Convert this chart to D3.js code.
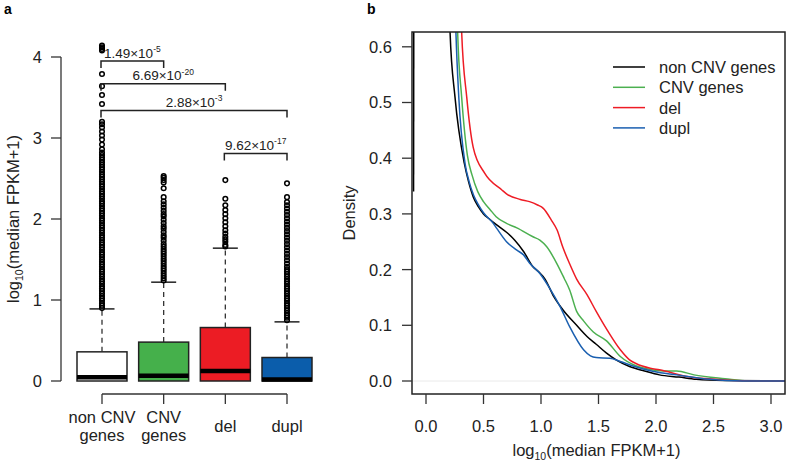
<!DOCTYPE html>
<html>
<head>
<meta charset="utf-8">
<script src="https://cdn.jsdelivr.net/npm/d3@7/dist/d3.min.js"></script>
<style>
  html, body { margin: 0; padding: 0; background: #fff; }
  svg { display: block; font-family: "Liberation Sans", Arial, sans-serif; }
</style>
</head>
<body>
<svg id="chart" width="787" height="462"></svg>
<script>
// ---------------- DATA ----------------
// Panel a: boxplots
const boxCategories = ["non CNV genes", "CNV genes", "del", "dupl"];
const boxLabelLines = [["non CNV", "genes"], ["CNV", "genes"], ["del"], ["dupl"]];
const boxQ1 = [0, 0, 0, 0];
const boxMedian = [0.045, 0.065, 0.125, 0.02];
const boxQ3 = [0.36, 0.48, 0.66, 0.29];
const whiskerHigh = [0.89, 1.22, 1.64, 0.73];
const boxFills = ["#ffffff", "#45b04b", "#ec1c24", "#0b5dab"];
const yTicksA = [0, 1, 2, 3, 4];

const outliersNonCnv = [0.90,0.93,0.96,0.99,1.02,1.05,1.08,1.11,1.14,1.17,1.20,1.23,1.26,1.29,1.32,1.35,1.38,1.41,1.44,1.47,1.50,1.53,1.56,1.59,1.62,1.65,1.68,1.71,1.74,1.77,1.80,1.83,1.86,1.89,1.92,1.95,1.98,2.01,2.04,2.07,2.10,2.13,2.16,2.19,2.22,2.25,2.28,2.31,2.34,2.37,2.40,2.43,2.46,2.49,2.52,2.55,2.58,2.61,2.64,2.67,2.70,2.73,2.76,2.79,2.82,2.86,2.92,2.98,3.03,3.08,3.13,3.17,3.20,3.42,3.53,3.64,3.79,4.08,4.10,4.12,4.14];
const outliersCnv = [1.24,1.27,1.30,1.33,1.36,1.39,1.42,1.45,1.48,1.51,1.54,1.57,1.60,1.63,1.66,1.69,1.73,1.77,1.80,1.84,1.88,1.91,1.95,1.99,2.03,2.06,2.10,2.14,2.18,2.22,2.27,2.38,2.45,2.48,2.51,2.53];
const outliersDel = [1.66,1.68,1.72,1.75,1.78,1.82,1.86,1.91,1.96,2.01,2.06,2.11,2.17,2.25,2.48];
const outliersDupl = [0.75,0.78,0.81,0.84,0.87,0.90,0.93,0.96,0.99,1.02,1.05,1.08,1.11,1.14,1.17,1.20,1.23,1.26,1.29,1.32,1.35,1.38,1.41,1.45,1.49,1.53,1.57,1.61,1.65,1.69,1.73,1.77,1.81,1.85,1.89,1.93,1.97,2.01,2.05,2.09,2.13,2.17,2.21,2.27,2.44];
const outliers = [outliersNonCnv, outliersCnv, outliersDel, outliersDupl];

// significance brackets
const bracketFrom = [0, 0, 0, 2];
const bracketTo = [1, 2, 3, 3];
const bracketLevel = [3.95, 3.67, 3.34, 2.81];
const pMantissa = ["1.49", "6.69", "2.88", "9.62"];
const pExponent = ["-5", "-20", "-3", "-17"];

// Panel b: density curves
const densSeries = ["non CNV genes", "CNV genes", "del", "dupl"];
const densColors = ["#000000", "#4cb050", "#ee1c25", "#1a5fb0"];
const xTicksB = [0.0, 0.5, 1.0, 1.5, 2.0, 2.5, 3.0];
const yTicksB = [0.0, 0.1, 0.2, 0.3, 0.4, 0.5, 0.6];

const nonCnvEdgeX = [-0.108, -0.106];
const nonCnvEdgeY = [0.34, 0.70];
const nonCnvX = [0.20, 0.209, 0.252, 0.333, 0.37, 0.41, 0.455, 0.50, 0.556, 0.63, 0.70, 0.77, 0.85, 0.93, 0.98, 1.035, 1.11, 1.19, 1.31, 1.40, 1.48, 1.57, 1.66, 1.77, 1.90, 2.03, 2.20, 2.35, 2.60, 3.20];
const nonCnvY = [0.70, 0.627, 0.51, 0.391, 0.358, 0.331, 0.313, 0.300, 0.29, 0.278, 0.267, 0.253, 0.232, 0.205, 0.196, 0.183, 0.152, 0.128, 0.10, 0.08, 0.066, 0.05, 0.037, 0.026, 0.018, 0.011, 0.007, 0.003, 0.001, 0.0];
const cnvX = [0.27, 0.275, 0.31, 0.36, 0.40, 0.45, 0.50, 0.556, 0.61, 0.70, 0.79, 0.93, 0.99, 1.05, 1.14, 1.20, 1.25, 1.31, 1.37, 1.455, 1.57, 1.69, 1.83, 1.92, 2.06, 2.18, 2.33, 2.60, 2.80, 3.20];
const cnvY = [0.70, 0.627, 0.51, 0.405, 0.37, 0.34, 0.322, 0.308, 0.295, 0.283, 0.275, 0.259, 0.253, 0.241, 0.21, 0.185, 0.163, 0.125, 0.108, 0.088, 0.072, 0.044, 0.027, 0.022, 0.018, 0.018, 0.011, 0.004, 0.0, 0.0];
const delX = [0.30, 0.31, 0.354, 0.41, 0.51, 0.66, 0.70, 0.82, 0.90, 0.97, 1.02, 1.09, 1.14, 1.19, 1.25, 1.31, 1.40, 1.48, 1.58, 1.69, 1.77, 1.83, 1.95, 2.03, 2.27, 2.60, 2.88, 3.20];
const delY = [0.70, 0.627, 0.51, 0.42, 0.373, 0.343, 0.336, 0.326, 0.322, 0.316, 0.31, 0.289, 0.271, 0.24, 0.21, 0.183, 0.155, 0.125, 0.09, 0.056, 0.038, 0.031, 0.023, 0.02, 0.008, 0.002, 0.0, 0.0];
const duplX = [0.25, 0.26, 0.285, 0.34, 0.375, 0.415, 0.46, 0.50, 0.585, 0.615, 0.70, 0.79, 0.85, 0.90, 0.99, 1.08, 1.165, 1.25, 1.37, 1.43, 1.48, 1.60, 1.69, 1.80, 1.98, 2.18, 2.47, 2.75, 3.20];
const duplY = [0.70, 0.627, 0.51, 0.39, 0.358, 0.333, 0.315, 0.302, 0.283, 0.274, 0.25, 0.235, 0.226, 0.212, 0.193, 0.165, 0.134, 0.097, 0.056, 0.045, 0.042, 0.041, 0.035, 0.027, 0.017, 0.011, 0.003, 0.0, 0.0];

// ---------------- DRAW ----------------
const svg = d3.select("#chart");
svg.append("rect").attr("width", 787).attr("height", 462).attr("fill", "#fff");
const FONT = 16.5;

// ===== Panel a =====
const xA = d3.scaleLinear().domain([0, 3]).range([102, 287]);
const yA = d3.scaleLinear().domain([0, 4]).range([381, 57]);
const gA = svg.append("g");

svg.append("text").attr("x", 4).attr("y", 14).attr("font-size", 14).attr("font-weight", "bold").text("a");

// y axis
gA.append("line").attr("x1", 61).attr("x2", 61).attr("y1", yA(0)).attr("y2", yA(4))
  .attr("stroke", "#333").attr("stroke-width", 1.3);
yTicksA.forEach(t => {
  gA.append("line").attr("x1", 51).attr("x2", 61).attr("y1", yA(t)).attr("y2", yA(t))
    .attr("stroke", "#333").attr("stroke-width", 1.3);
  gA.append("text").attr("x", 42).attr("y", yA(t)).attr("dy", "0.36em")
    .attr("text-anchor", "end").attr("font-size", FONT).attr("fill", "#222").text(t);
});
const ylabA = gA.append("text").attr("transform", "translate(19,219) rotate(-90)")
  .attr("text-anchor", "middle").attr("font-size", FONT).attr("fill", "#222");
ylabA.append("tspan").text("log");
ylabA.append("tspan").attr("font-size", 10.5).attr("dy", 4).text("10");
ylabA.append("tspan").attr("dy", -4).text("(median FPKM+1)");

// x axis
gA.append("line").attr("x1", xA(0)).attr("x2", xA(3)).attr("y1", 394).attr("y2", 394)
  .attr("stroke", "#333").attr("stroke-width", 1.3);
boxCategories.forEach((c, i) => {
  gA.append("line").attr("x1", xA(i)).attr("x2", xA(i)).attr("y1", 394).attr("y2", 404)
    .attr("stroke", "#333").attr("stroke-width", 1.3);
  const lines = boxLabelLines[i];
  lines.forEach((ln, j) => {
    const yy = lines.length === 2 ? (j === 0 ? 423 : 441) : 432;
    gA.append("text").attr("x", xA(i)).attr("y", yy).attr("text-anchor", "middle")
      .attr("font-size", FONT).attr("fill", "#222").text(ln);
  });
});

// boxes
const halfW = 25;
boxCategories.forEach((c, i) => {
  const cx = xA(i);
  gA.append("line").attr("x1", cx).attr("x2", cx).attr("y1", yA(boxQ3[i])).attr("y2", yA(whiskerHigh[i]))
    .attr("stroke", "#333").attr("stroke-width", 1.3).attr("stroke-dasharray", "5,4");
  gA.append("line").attr("x1", cx - 12.5).attr("x2", cx + 12.5).attr("y1", yA(whiskerHigh[i])).attr("y2", yA(whiskerHigh[i]))
    .attr("stroke", "#222").attr("stroke-width", 1.5);
  gA.append("rect").attr("x", cx - halfW).attr("width", 2 * halfW)
    .attr("y", yA(boxQ3[i])).attr("height", yA(boxQ1[i]) - yA(boxQ3[i]))
    .attr("fill", boxFills[i]).attr("stroke", "#222").attr("stroke-width", 1.5);
  gA.append("line").attr("x1", cx - halfW).attr("x2", cx + halfW).attr("y1", yA(boxMedian[i])).attr("y2", yA(boxMedian[i]))
    .attr("stroke", "#000").attr("stroke-width", 4.5);
  gA.append("g").selectAll("circle").data(outliers[i]).join("circle")
    .attr("cx", cx).attr("cy", d => yA(d)).attr("r", 2.3)
    .attr("fill", "none").attr("stroke", "#000").attr("stroke-width", 1.5);
});

// brackets
pMantissa.forEach((m, k) => {
  const x1 = xA(bracketFrom[k]) - 1, x2 = xA(bracketTo[k]);
  const by = yA(bracketLevel[k]);
  gA.append("path").attr("d", `M${x1},${by + 7}V${by}H${x2}V${by + 7}`)
    .attr("fill", "none").attr("stroke", "#222").attr("stroke-width", 1.5);
  const t = gA.append("text").attr("x", (x1 + x2) / 2).attr("y", by - 3.5)
    .attr("text-anchor", "middle").attr("font-size", 13.5).attr("fill", "#222");
  t.append("tspan").text(m + "\u00d710");
  t.append("tspan").attr("font-size", 8.5).attr("dy", -5.5).text(pExponent[k]);
});

// ===== Panel b =====
const xB = d3.scaleLinear().domain([0, 3]).range([426, 771]);
const yB = d3.scaleLinear().domain([0, 0.6]).range([381, 46.8]);
const L = 412, R = 785, T = 32, B = 394;
const gB = svg.append("g");

svg.append("text").attr("x", 367).attr("y", 14).attr("font-size", 14).attr("font-weight", "bold").text("b");

svg.append("defs").append("clipPath").attr("id", "clipB")
  .append("rect").attr("x", L).attr("y", T).attr("width", R - L).attr("height", B - T);

gB.append("line").attr("x1", L).attr("x2", R).attr("y1", yB(0)).attr("y2", yB(0))
  .attr("stroke", "#e4e4e4").attr("stroke-width", 0.8);

const line = d3.line().x(d => xB(d[0])).y(d => yB(d[1])).curve(d3.curveMonotoneX);
const curves = [
  d3.zip(nonCnvX, nonCnvY),
  d3.zip(cnvX, cnvY),
  d3.zip(delX, delY),
  d3.zip(duplX, duplY)
];
const gC = gB.append("g").attr("clip-path", "url(#clipB)");
gC.append("path").attr("d", d3.line().x(d => xB(d[0])).y(d => yB(d[1]))(d3.zip(nonCnvEdgeX, nonCnvEdgeY)))
  .attr("fill", "none").attr("stroke", densColors[0]).attr("stroke-width", 1.5);
curves.forEach((pts, i) => {
  gC.append("path").attr("d", line(pts)).attr("fill", "none")
    .attr("stroke", densColors[i]).attr("stroke-width", 1.5);
});

gB.append("rect").attr("x", L).attr("y", T).attr("width", R - L).attr("height", B - T)
  .attr("fill", "none").attr("stroke", "#222").attr("stroke-width", 1.5);

yTicksB.forEach(t => {
  gB.append("line").attr("x1", L - 10).attr("x2", L).attr("y1", yB(t)).attr("y2", yB(t))
    .attr("stroke", "#333").attr("stroke-width", 1.3);
  gB.append("text").attr("x", 392).attr("y", yB(t)).attr("dy", "0.36em")
    .attr("text-anchor", "end").attr("font-size", FONT).attr("fill", "#222").text(t.toFixed(1));
});
xTicksB.forEach(t => {
  gB.append("line").attr("x1", xB(t)).attr("x2", xB(t)).attr("y1", B).attr("y2", B + 10)
    .attr("stroke", "#333").attr("stroke-width", 1.3);
  gB.append("text").attr("x", xB(t)).attr("y", 431.5)
    .attr("text-anchor", "middle").attr("font-size", FONT).attr("fill", "#222").text(t.toFixed(1));
});
const xlabB = gB.append("text").attr("x", (L + R) / 2 - 2).attr("y", 455.5)
  .attr("text-anchor", "middle").attr("font-size", FONT).attr("fill", "#222");
xlabB.append("tspan").text("log");
xlabB.append("tspan").attr("font-size", 10.5).attr("dy", 4).text("10");
xlabB.append("tspan").attr("dy", -4).text("(median FPKM+1)");
gB.append("text").attr("transform", `translate(355,${(T + B) / 2}) rotate(-90)`)
  .attr("text-anchor", "middle").attr("font-size", FONT).attr("fill", "#222").text("Density");

densSeries.forEach((s, i) => {
  const ly = 67 + i * 20.3;
  gB.append("line").attr("x1", 613).attr("x2", 645).attr("y1", ly).attr("y2", ly)
    .attr("stroke", densColors[i]).attr("stroke-width", 1.5);
  gB.append("text").attr("x", 659).attr("y", ly).attr("dy", "0.36em")
    .attr("font-size", FONT).attr("fill", "#222").text(s);
});
</script>
</body>
</html>
